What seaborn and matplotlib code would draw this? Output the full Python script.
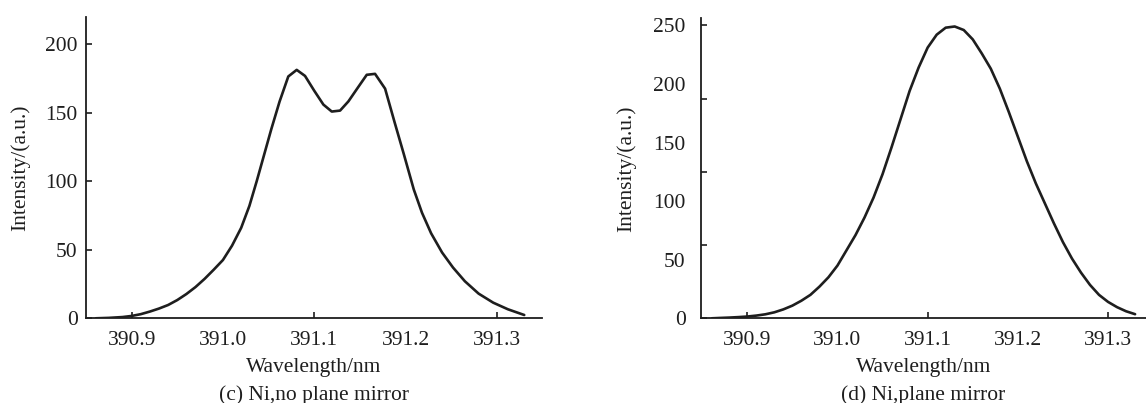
import matplotlib
matplotlib.use("Agg")
import matplotlib.pyplot as plt
import seaborn as sns
import pandas as pd

# ---- data (c) Ni, no plane mirror ----
wl_c = [390.861, 390.875, 390.890, 390.900, 390.910, 390.920, 390.930, 390.940,
        390.950, 390.960, 390.970, 390.980, 390.990, 391.000, 391.010, 391.020,
        391.029, 391.037, 391.045, 391.053, 391.062, 391.0716, 391.0808,
        391.0899, 391.100, 391.110, 391.1192, 391.1283, 391.1374, 391.1475,
        391.1575, 391.1666, 391.1776, 391.188, 391.198, 391.209, 391.218,
        391.228, 391.240, 391.252, 391.265, 391.280, 391.296, 391.312, 391.330]
int_c = [0.0, 0.3, 0.9, 1.7, 3.0, 4.9, 7.1, 9.7,
         13.3, 17.7, 22.8, 28.8, 35.5, 42.5, 53.0, 66.0,
         82.0, 100.0, 119.0, 138.0, 158.0, 176.4, 181.2,
         176.8, 166.0, 155.9, 150.8, 151.5, 158.2, 168.0,
         177.6, 178.3, 167.5, 143.0, 120.0, 94.0, 77.0,
         62.0, 48.0, 37.0, 27.0, 18.0, 11.4, 6.6, 2.4]

# ---- data (d) Ni, plane mirror ----
wl_d = [390.861, 390.870, 390.880, 390.890, 390.900, 390.910, 390.920, 390.930,
        390.940, 390.950, 390.960, 390.970, 390.980, 390.990, 391.000, 391.010,
        391.020, 391.030, 391.040, 391.050, 391.060, 391.070, 391.080, 391.090,
        391.100, 391.110, 391.120, 391.130, 391.140, 391.150, 391.160, 391.170,
        391.180, 391.190, 391.200, 391.210, 391.220, 391.230, 391.240, 391.250,
        391.260, 391.270, 391.280, 391.290, 391.300, 391.310, 391.320, 391.330]
int_d = [0.0, 0.3, 0.6, 1.0, 1.5, 2.3, 3.4, 5.1,
         7.6, 10.8, 15.0, 20.0, 27.0, 35.0, 45.0, 58.0,
         71.0, 86.0, 103.0, 123.0, 146.0, 170.0, 194.0, 214.0,
         231.0, 242.0, 248.0, 249.0, 246.0, 238.0, 226.0, 213.0,
         196.0, 176.0, 155.0, 134.0, 115.0, 98.0, 81.0, 65.0,
         51.0, 39.0, 28.5, 20.0, 14.0, 9.5, 6.0, 3.5]

x_major = [390.9, 391.1, 391.3]
x_label_pos = [390.9, 391.0, 391.1, 391.2, 391.3]
x_labels = ["390.9", "391.0", "391.1", "391.2", "391.3"]

y_c_ticks = [0, 50, 100, 150, 200]
y_c_labels = ["0", "50", "100", "150", "200"]
y_d_marks = [0, 62.5, 125, 187.5, 250]
y_d_ticks = [0, 50, 100, 150, 200, 250]
y_d_labels = ["0", "50", "100", "150", "200", "250"]

xlabel = "Wavelength/nm"
ylabel = "Intensity/(a.u.)"
cap_c = "(c) Ni,no plane mirror"
cap_d = "(d) Ni,plane mirror"

sns.set_style("ticks")
plt.rcParams["font.family"] = ["Liberation Serif", "DejaVu Serif"]

ink = "#1e1e1e"
fs = 15.5

fig = plt.figure(figsize=(11.46, 4.03), dpi=100)
ax1 = fig.add_axes([0.0750, 0.2102, 0.3976, 0.7484])
ax2 = fig.add_axes([0.6117, 0.2102, 0.3883, 0.7444])

df_c = pd.DataFrame({"wl": wl_c, "I": int_c})
df_d = pd.DataFrame({"wl": wl_d, "I": int_d})

sns.lineplot(data=df_c, x="wl", y="I", ax=ax1, color=ink, linewidth=1.9, sort=False)
sns.lineplot(data=df_d, x="wl", y="I", ax=ax2, color=ink, linewidth=1.9, sort=False)


def style_axes(ax, xlim, ylim):
    ax.set_xlim(*xlim)
    ax.set_ylim(*ylim)
    ax.xaxis.remove_overlapping_locs = False
    ax.yaxis.remove_overlapping_locs = False
    for s in ["top", "right"]:
        ax.spines[s].set_visible(False)
    for s in ["left", "bottom"]:
        ax.spines[s].set_color(ink)
        ax.spines[s].set_linewidth(1.3)
    ax.set_xticks(x_major)
    ax.set_xticklabels([])
    ax.set_xticks(x_label_pos, minor=True)
    ax.set_xticklabels(x_labels, minor=True)
    ax.tick_params(axis="x", which="major", direction="in", length=4, width=1.2,
                   color=ink)
    ax.tick_params(axis="x", which="minor", length=0, pad=9, labelsize=fs,
                   labelcolor=ink)
    ax.set_xlabel(xlabel, fontsize=fs, color=ink, labelpad=6)


style_axes(ax1, (390.850, 391.349), (0, 220))
ax1.set_yticks(y_c_ticks)
ax1.set_yticklabels(y_c_labels)
ax1.tick_params(axis="y", which="major", direction="in", length=4, width=1.2,
                color=ink, labelsize=fs, labelcolor=ink, pad=6)
ax1.set_ylabel(ylabel, fontsize=fs, color=ink, labelpad=11)

style_axes(ax2, (390.8487, 391.3421), (0, 256))
ax2.set_yticks(y_d_marks)
ax2.set_yticklabels([])
ax2.set_yticks(y_d_ticks, minor=True)
ax2.set_yticklabels(y_d_labels, minor=True)
ax2.tick_params(axis="y", which="major", direction="in", length=4, width=1.2,
                color=ink)
ax2.tick_params(axis="y", which="minor", length=0, labelsize=fs,
                labelcolor=ink, pad=11)
ax2.set_ylabel(ylabel, fontsize=fs, color=ink, labelpad=12)

for ax, cap in [(ax1, cap_c), (ax2, cap_d)]:
    ax.text(0.5, -0.255, cap, transform=ax.transAxes, ha="center", va="center",
            fontsize=fs, color=ink)

fig.savefig("out.png", dpi=100)
